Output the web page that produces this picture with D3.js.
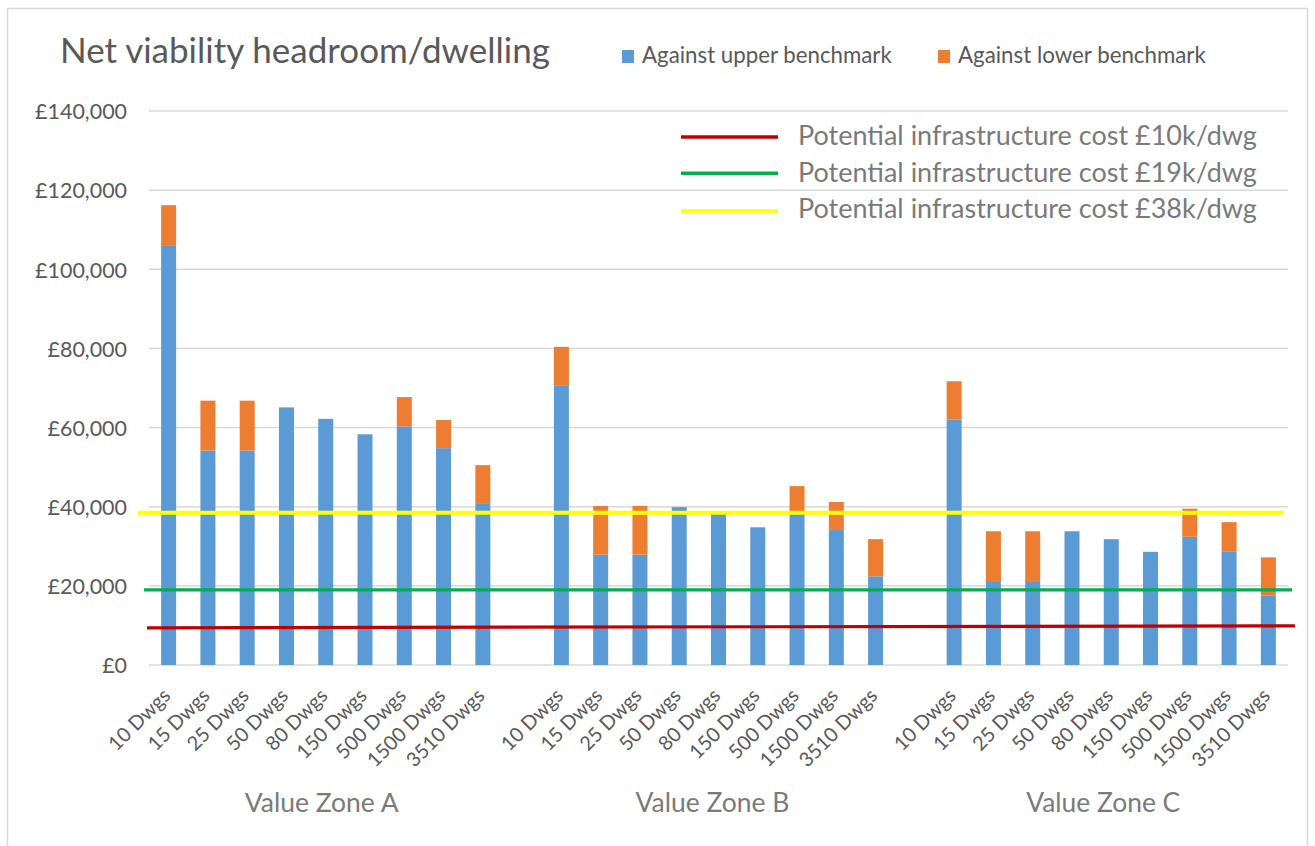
<!DOCTYPE html>
<html>
<head>
<meta charset="utf-8">
<script src="https://cdn.jsdelivr.net/npm/d3@7"></script>
<style>
  html, body { margin: 0; padding: 0; background: #ffffff; }
  svg { display: block; font-family: Lato, "Open Sans", "Liberation Sans", sans-serif; }
</style>
</head>
<body>
<svg id="chart" width="1315" height="846"></svg>
<script>
// ---------------- DATA ----------------
const title = "Net viability headroom/dwelling";
const zones = ["Value Zone A", "Value Zone B", "Value Zone C"];
const categories = ["10 Dwgs", "15 Dwgs", "25 Dwgs", "50 Dwgs", "80 Dwgs", "150 Dwgs", "500 Dwgs", "1500 Dwgs", "3510 Dwgs"];
const seriesNames = ["Against upper benchmark", "Against lower benchmark"];

// Against upper benchmark (£/dwelling)
const upperA = [106100, 54200, 54200, 65100, 62200, 58300, 60300, 54800, 40900];
const upperB = [70700, 27900, 27900, 39900, 38300, 34800, 38400, 34100, 22400];
const upperC = [62000, 21200, 21200, 33800, 31800, 28600, 32400, 28600, 17600];
// Against lower benchmark (additional stacked amount, £/dwelling)
const lowerA = [10100, 12600, 12600, 0, 0, 0, 7400, 7100, 9600];
const lowerB = [9700, 12300, 12300, 0, 0, 0, 6800, 7100, 9400];
const lowerC = [9700, 12600, 12600, 0, 0, 0, 7100, 7500, 9600];

const yTicks = [0, 20000, 40000, 60000, 80000, 100000, 120000, 140000];

// Potential infrastructure cost lines (value at left end, value at right end)
const costLabels = ["Potential infrastructure cost £10k/dwg", "Potential infrastructure cost £19k/dwg", "Potential infrastructure cost £38k/dwg"];
const costStart = [9400, 19000, 38500];
const costEnd = [9900, 19000, 38500];
const costColors = ["#c00000", "#00b050", "#ffff00"];

// ---------------- BUILD ----------------
const upper = [upperA, upperB, upperC];
const lower = [lowerA, lowerB, lowerC];
const slots = [];
const rows = [];
zones.forEach((z, zi) => {
  categories.forEach((c, ci) => {
    const key = zi + "|" + ci;
    slots.push(key);
    rows.push({ key, zone: zi, cat: c, upper: upper[zi][ci], lower: lower[zi][ci] });
  });
  if (zi < zones.length - 1) slots.push("gap" + zi);
});

const svg = d3.select("#chart");
const plot = { left: 149, right: 1288, top: 111, bottom: 665 };
const textGrey = "#595959";
const lightGrey = "#7a7a7a";

// chart border
svg.append("rect").attr("x", 7.5).attr("y", 8.5).attr("width", 1300).attr("height", 850)
  .attr("fill", "#fff").attr("stroke", "#d9d9d9").attr("stroke-width", 1.5);

const x = d3.scaleBand().domain(slots).range([plot.left, plot.right]).padding(0);
const y = d3.scaleLinear().domain([0, 140000]).range([plot.bottom, plot.top]);

function fitSize(sel, width) {
  const fs = parseFloat(sel.attr("font-size"));
  const w = sel.node().getComputedTextLength();
  return w > 0 ? fs * width / w : fs;
}
function fit(sel, width) {
  sel.attr("font-size", fitSize(sel, width));
  return sel;
}

// gridlines
svg.append("g").selectAll("line").data(yTicks).join("line")
  .attr("x1", plot.left).attr("x2", plot.right)
  .attr("y1", d => y(d)).attr("y2", d => y(d))
  .attr("stroke", "#d9d9d9").attr("stroke-width", 1.5);

// y axis labels
const fmt = d => "£" + d3.format(",")(d);
const yAxis = svg.append("g").attr("transform", `translate(127,0)`)
  .call(d3.axisLeft(y).tickValues(yTicks).tickFormat(fmt).tickSize(0).tickPadding(0));
yAxis.select(".domain").remove();
const yTexts = yAxis.selectAll("text").attr("fill", textGrey).attr("font-size", 20)
  .attr("font-family", "Lato, 'Open Sans', sans-serif").attr("dy", "0.36em");
const widest = yTexts.filter(d => d === 140000);
const yFs = fitSize(widest, 92);
yTexts.attr("font-size", yFs);

// bars
const bw = 15;
const stack = d3.stack().keys(["upper", "lower"])(rows);
const barColors = ["#5b9bd5", "#ed7d31"];
svg.append("g").selectAll("g").data(stack).join("g")
  .attr("fill", (d, i) => barColors[i])
  .selectAll("rect").data(d => d.filter(s => s[1] - s[0] > 0)).join("rect")
  .attr("x", d => x(d.data.key) + x.bandwidth() / 2 - bw / 2)
  .attr("width", bw)
  .attr("y", d => y(d[1]))
  .attr("height", d => y(d[0]) - y(d[1]));

// cost lines (drawn over bars)
const costG = svg.append("g");
costLabels.forEach((lab, i) => {
  const x1 = plot.left + [-2, -5, -11][i];
  const x2 = plot.right + [7, 4, -4][i];
  costG.append("line")
    .attr("x1", x1).attr("x2", x2)
    .attr("y1", y(costStart[i])).attr("y2", y(costEnd[i]))
    .attr("stroke", costColors[i]).attr("stroke-width", i === 2 ? 4 : 3.2);
});

// x category labels
const xl = svg.append("g");
const xTexts = [];
rows.forEach(r => {
  const cx = x(r.key) + x.bandwidth() / 2;
  xTexts.push(xl.append("text")
    .attr("transform", `translate(${cx + 3},${plot.bottom + 32}) rotate(-45)`)
    .attr("text-anchor", "end")
    .attr("font-size", 18).attr("fill", textGrey)
    .text(r.cat));
});
const xFs = fitSize(xTexts[categories.length - 1], 101);
xTexts.forEach(t => t.attr("font-size", xFs));

// zone labels
zones.forEach((z, zi) => {
  const a = x(zi + "|0"), b = x(zi + "|" + (categories.length - 1)) + x.bandwidth();
  const t = svg.append("text")
    .attr("x", (a + b) / 2 - 4 - zi * 2).attr("y", 811.5)
    .attr("text-anchor", "middle").attr("font-size", 22).attr("fill", lightGrey)
    .text(z);
  fit(t, 154);
});

// title
const tt = svg.append("text").attr("x", 60).attr("y", 63)
  .attr("font-size", 30).attr("fill", textGrey).text(title);
fit(tt, 490);

// series legend
const legX = [622, 938];
const legW = [250, 248];
seriesNames.forEach((s, i) => {
  svg.append("rect").attr("x", legX[i]).attr("y", 50).attr("width", 12).attr("height", 13)
    .attr("fill", barColors[i]);
  const t = svg.append("text").attr("x", legX[i] + 20).attr("y", 63)
    .attr("font-size", 20).attr("fill", textGrey).text(s);
  fit(t, legW[i]);
});

// cost line legend
const legLineY = [137, 173.3, 211];
const legTextY = [145, 181.5, 217.5];
costLabels.forEach((lab, i) => {
  svg.append("line").attr("x1", 681).attr("x2", 778)
    .attr("y1", legLineY[i]).attr("y2", legLineY[i])
    .attr("stroke", costColors[i]).attr("stroke-width", 3.5);
  const t = svg.append("text").attr("x", 798).attr("y", legTextY[i])
    .attr("font-size", 26).attr("fill", lightGrey).text(lab);
  fit(t, 459);
});
</script>
</body>
</html>
